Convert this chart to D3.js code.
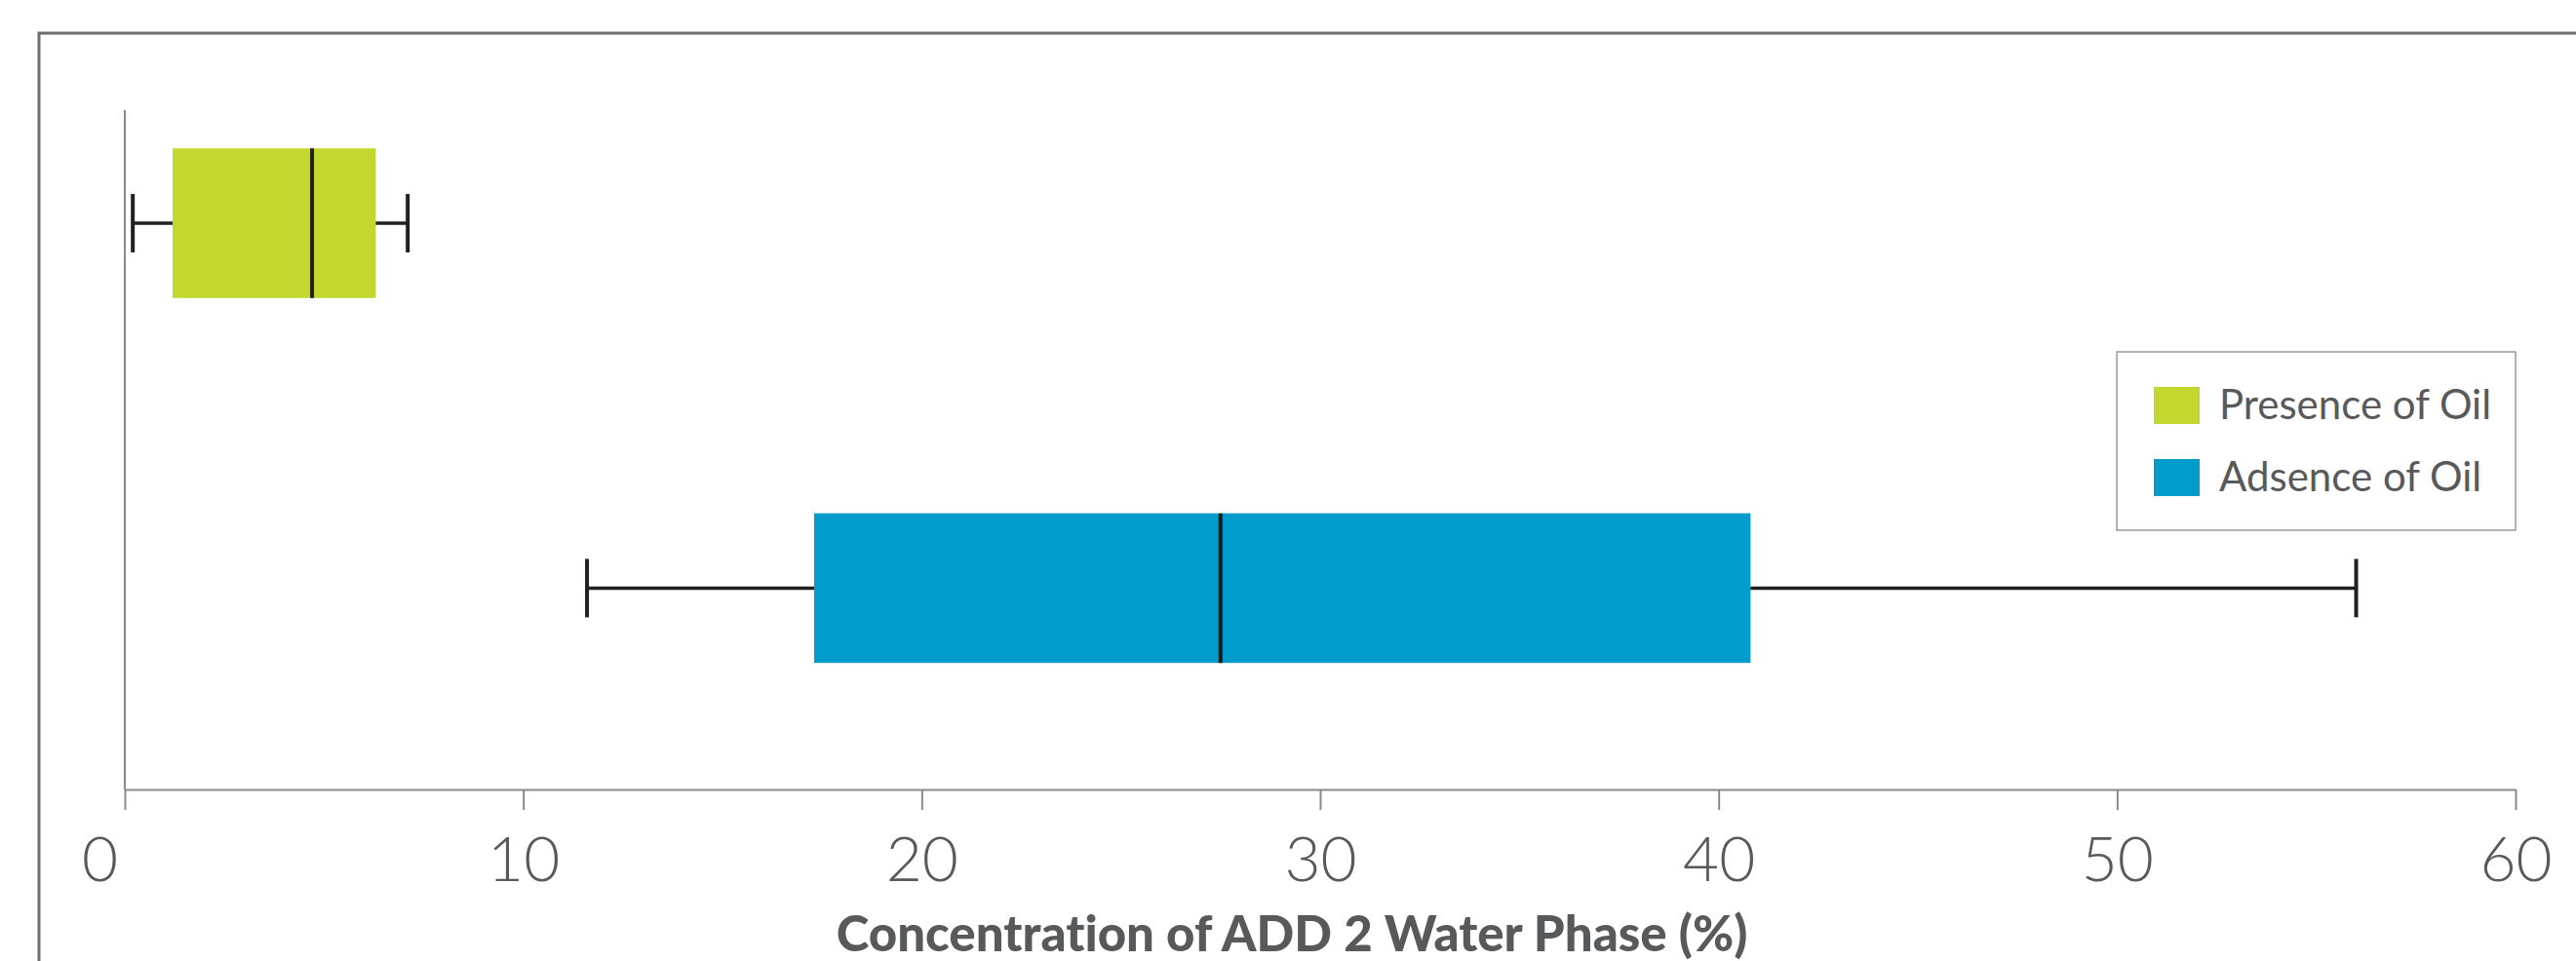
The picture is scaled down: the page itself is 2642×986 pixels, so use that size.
<!DOCTYPE html>
<html>
<head>
<meta charset="utf-8">
<script src="https://cdn.jsdelivr.net/npm/d3@7"></script>
<style>
  html, body { margin: 0; padding: 0; background: #fff; }
  svg { display: block; }
  text { font-family: Lato, "Open Sans", sans-serif; fill: #58595b; font-variant-ligatures: none; }
</style>
</head>
<body>
<script>
// Box-plot summary per group: whisker min, Q1, median, Q3, whisker max (%)
const categories = ["Presence of Oil", "Adsence of Oil"];
const colors = ["#c2d82e", "#009ccb"];
const mins    = [0.2, 11.6];
const q1s     = [1.2, 17.3];
const medians = [4.7, 27.5];
const q3s     = [6.3, 40.8];
const maxs    = [7.1, 56.0];
const xTicks  = [0, 10, 20, 30, 40, 50, 60];
const xTitle  = "Concentration of ADD 2 Water Phase (%)";

const W = 2642, H = 986;
const svg = d3.select("body").append("svg").attr("width", W).attr("height", H);

// outer frame (top and left edges visible)
svg.append("path")
  .attr("d", `M40,${H} L40,34 L${W},34`)
  .attr("fill", "none").attr("stroke", "#6d6e71").attr("stroke-width", 3);

const x = d3.scaleLinear().domain([0, 60]).range([128, 2580]);
const y = d3.scalePoint().domain(categories).range([229, 603.4]);
const step = y.step();
const boxH = step * 0.41;
const capH = step * 0.16;
const axisY = 810;

const rows = categories.map((c, i) => ({
  cat: c, color: colors[i], min: mins[i], q1: q1s[i], med: medians[i], q3: q3s[i], max: maxs[i]
}));

// y axis line
svg.append("line")
  .attr("x1", x(0)).attr("x2", x(0)).attr("y1", 113).attr("y2", axisY)
  .attr("stroke", "#8a8a8a").attr("stroke-width", 2);

// x axis
const gx = svg.append("g").attr("transform", `translate(0,${axisY})`)
  .call(d3.axisBottom(x).tickValues(xTicks).tickSize(21).tickPadding(28).tickSizeOuter(0));
gx.select(".domain").attr("stroke", "#8a8a8a").attr("stroke-width", 2);
gx.selectAll(".tick line").attr("stroke", "#8a8a8a").attr("stroke-width", 2);
gx.selectAll(".tick text")
  .attr("font-family", "Lato, sans-serif")
  .attr("font-weight", 300)
  .attr("font-size", 64)
  .attr("fill", "#58595b")
  .attr("dx", d => d === 0 ? -26 : 0);

// axis title
svg.append("text")
  .attr("x", 1325)
  .attr("y", 976)
  .attr("text-anchor", "middle")
  .attr("font-weight", 900)
  .attr("font-size", 51)
  .text(xTitle);

// boxes
const g = svg.append("g").selectAll("g").data(rows).join("g");

g.append("line") // whisker
  .attr("x1", d => x(d.min)).attr("x2", d => x(d.max))
  .attr("y1", d => y(d.cat)).attr("y2", d => y(d.cat))
  .attr("stroke", "#231f20").attr("stroke-width", 3.5);

g.selectAll(".cap").data(d => [{v: d.min, c: d.cat}, {v: d.max, c: d.cat}]).join("line")
  .attr("class", "cap")
  .attr("x1", d => x(d.v)).attr("x2", d => x(d.v))
  .attr("y1", d => y(d.c) - capH / 2).attr("y2", d => y(d.c) + capH / 2)
  .attr("stroke", "#231f20").attr("stroke-width", 4);

g.append("rect")
  .attr("x", d => x(d.q1)).attr("width", d => x(d.q3) - x(d.q1))
  .attr("y", d => y(d.cat) - boxH / 2).attr("height", boxH)
  .attr("fill", d => d.color);

g.append("line") // median
  .attr("x1", d => x(d.med)).attr("x2", d => x(d.med))
  .attr("y1", d => y(d.cat) - boxH / 2).attr("y2", d => y(d.cat) + boxH / 2)
  .attr("stroke", "#231f20").attr("stroke-width", 4);

// legend
const lg = svg.append("g").attr("transform", "translate(2171,361)");
lg.append("rect").attr("width", 409).attr("height", 183)
  .attr("fill", "#fff").attr("stroke", "#9a9a9a").attr("stroke-width", 1.5);
const li = lg.selectAll("g").data(rows).join("g")
  .attr("transform", (d, i) => `translate(38,${36 + i * 74})`);
li.append("rect").attr("width", 47).attr("height", 38).attr("fill", d => d.color);
li.append("text")
  .attr("x", 67).attr("y", 33)
  .attr("font-weight", 400).attr("font-size", 42)
  .text(d => d.cat);
</script>
</body>
</html>
